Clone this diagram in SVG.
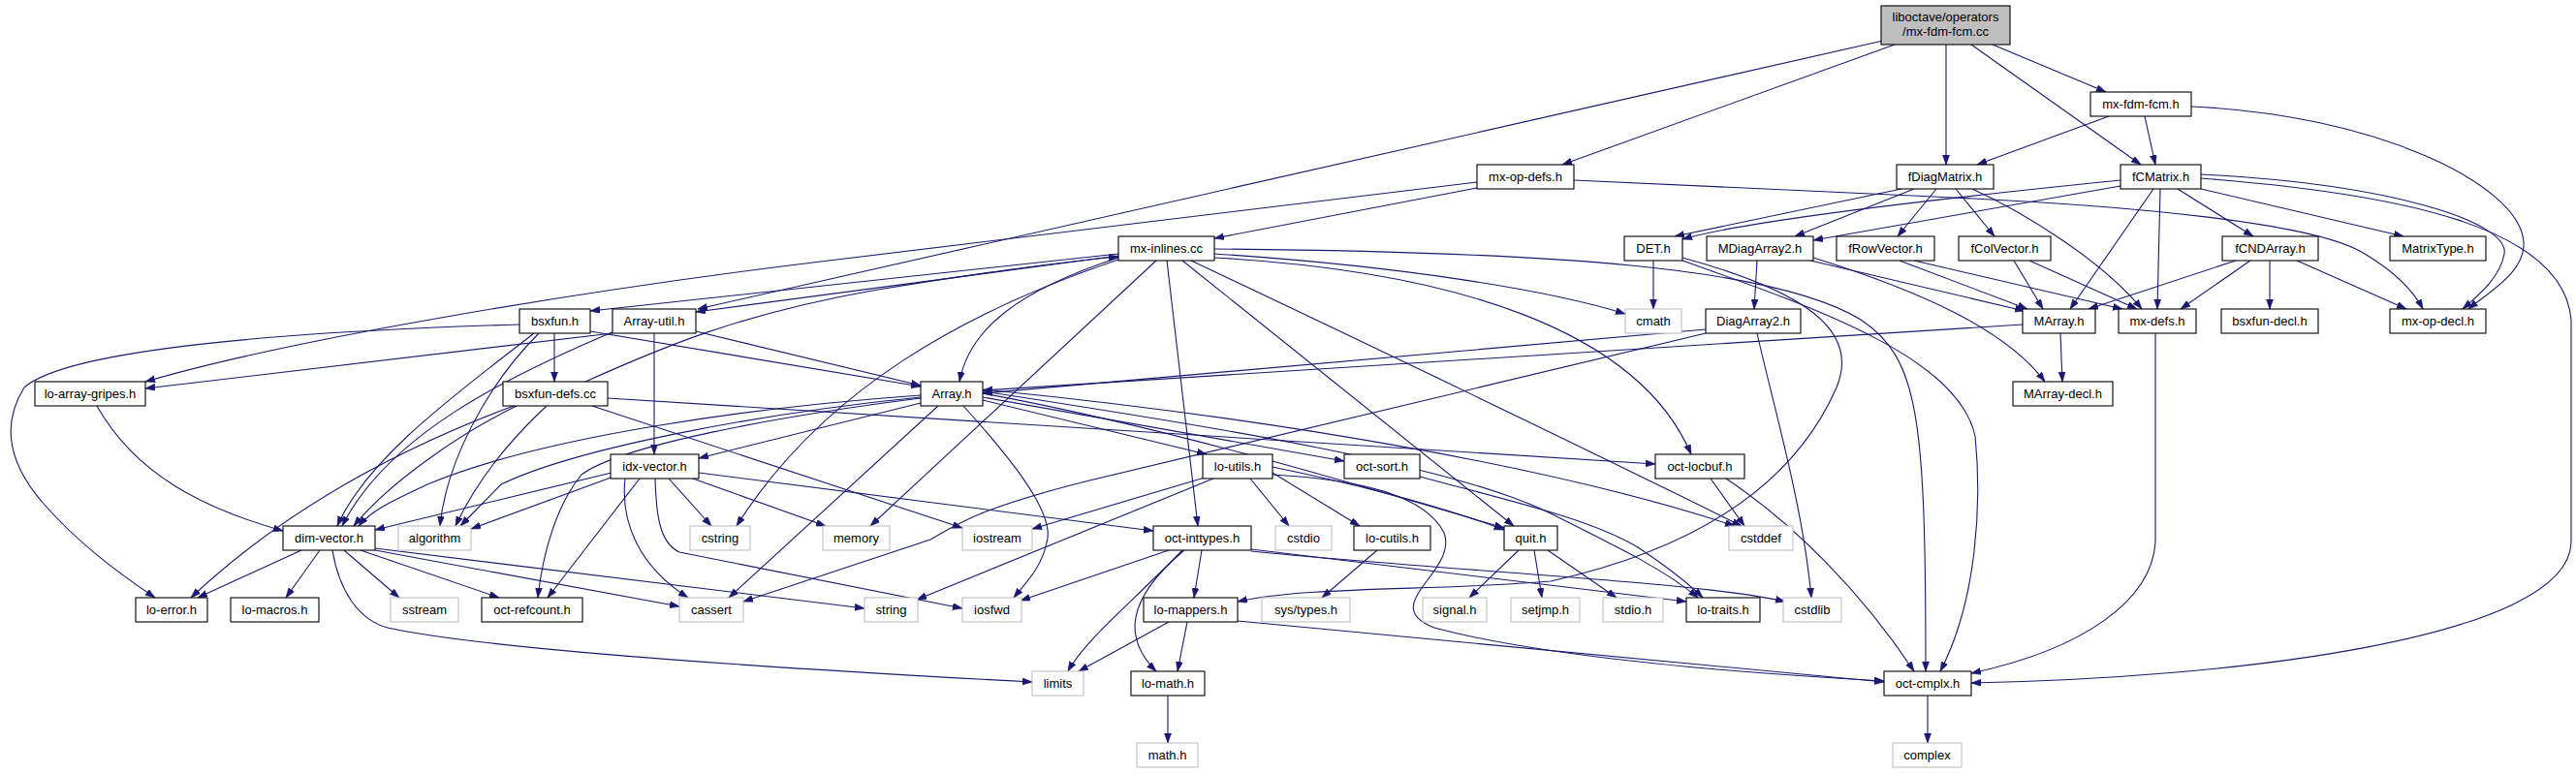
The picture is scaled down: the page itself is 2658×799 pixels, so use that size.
<svg xmlns="http://www.w3.org/2000/svg" width="2658" height="799" viewBox="0 0 2658 799">
<style>
.n rect{fill:#ffffff;stroke:#000000;stroke-width:1.1}
.x rect{fill:#ffffff;stroke:#bfbfbf;stroke-width:1.1}
.r rect{fill:#bfbfbf;stroke:#000000;stroke-width:1.1}
text{font-family:"Liberation Sans",Arial,Helvetica,sans-serif;font-size:13px;fill:#000000;text-anchor:middle}
#edges path{fill:none;stroke:#191970;stroke-width:1.1;marker-end:url(#ah)}
</style>
<defs>
<marker id="ah" markerUnits="userSpaceOnUse" markerWidth="11" markerHeight="8" refX="10" refY="3.5" orient="auto">
<path d="M0,0 L10,3.5 L0,7 z" fill="#191970" stroke="#191970" stroke-width="0.6"/>
</marker>
</defs>
<rect x="0" y="0" width="2658" height="799" fill="#ffffff"/>
<g id="edges">
<path d="M2056,46 L2173,95"/>
<path d="M2034,46 L2209,170"/>
<path d="M2008,46 L2008,170"/>
<path d="M1955,46 L1612,170"/>
<path d="M1943,42 L720,319"/>
<path d="M2176,120 L2040,170"/>
<path d="M2213,120 L2224,170"/>
<path d="M2261,110 C2450,118 2600,190 2604,250 C2606,280 2570,300 2547,319"/>
<path d="M2271,180 C2470,190 2590,230 2584,262 C2580,285 2560,303 2541,319"/>
<path d="M2271,184 C2480,200 2645,235 2653,330 L2653,560 C2650,660 2300,700 2034,705"/>
<path d="M2271,195 L2480,244"/>
<path d="M2247,195 L2325,244"/>
<path d="M2229,195 L2226,319"/>
<path d="M2222,195 L2136,319"/>
<path d="M2188,192 L1871,248"/>
<path d="M2188,186 C2000,205 1800,228 1736,247"/>
<path d="M1962,195 L1728,244"/>
<path d="M1975,195 L1852,244"/>
<path d="M1998,195 L1958,244"/>
<path d="M2018,195 L2058,244"/>
<path d="M2035,195 C2090,220 2170,270 2210,319"/>
<path d="M1624,186 L1995,203 C2200,212 2390,230 2440,262 C2470,280 2490,300 2500,319"/>
<path d="M1524,194 L1253,246"/>
<path d="M1524,188 L847,270 C600,300 300,350 150,394"/>
<path d="M1706,269 L1706,319"/>
<path d="M1736,266 C1860,300 1920,340 1895,400 C1860,480 1780,560 1600,600 C1480,610 1350,605 1277,621"/>
<path d="M1736,269 C1880,320 2020,370 2038,450 C2045,520 2040,620 2002,693"/>
<path d="M1813,269 L1810,319"/>
<path d="M1868,269 L2089,321"/>
<path d="M1871,266 C1980,300 2070,340 2110,394"/>
<path d="M1960,269 L2092,319"/>
<path d="M1975,269 L2190,319"/>
<path d="M2078,269 L2108,319"/>
<path d="M2094,269 L2205,319"/>
<path d="M2307,269 L2155,319"/>
<path d="M2322,269 L2250,319"/>
<path d="M2342,269 L2342,319"/>
<path d="M2370,269 L2483,319"/>
<path d="M2087,335 L1014,403"/>
<path d="M2126,344 L2128,394"/>
<path d="M2224,344 L2224,560 C2220,620 2150,670 2034,695"/>
<path d="M1760,340 L1014,406"/>
<path d="M1760,344 L1120,497 C1010,525 990,540 960,557 L767,621"/>
<path d="M1813,344 C1830,420 1860,520 1869,617"/>
<path d="M1154,266 C1050,300 1000,340 990,394"/>
<path d="M1154,264 L718,322"/>
<path d="M1154,262 L609,321"/>
<path d="M1253,262 C1450,275 1600,300 1677,324"/>
<path d="M1253,266 C1500,280 1690,340 1745,469"/>
<path d="M1253,257 C1600,260 1830,275 1920,330 C1980,370 1987,430 1987,693"/>
<path d="M1229,269 C1400,350 1650,470 1797,543"/>
<path d="M1220,269 L1562,543"/>
<path d="M1204,269 L1236,543"/>
<path d="M1193,269 L898,543"/>
<path d="M1154,268 C1000,320 850,400 760,543"/>
<path d="M572,344 L572,394"/>
<path d="M609,342 L950,399"/>
<path d="M536,335 C300,342 70,360 25,400 C0,440 10,480 45,520 C80,560 120,590 160,617"/>
<path d="M551,344 C480,400 380,470 348,543"/>
<path d="M556,344 C500,400 460,480 454,543"/>
<path d="M632,344 L150,401"/>
<path d="M634,342 C520,390 400,450 353,543"/>
<path d="M675,344 L675,469"/>
<path d="M718,342 L950,398"/>
<path d="M604,394 C680,360 760,325 900,300 C1000,283 1100,270 1154,265"/>
<path d="M627,411 L1708,479"/>
<path d="M533,419 C470,450 400,500 365,543"/>
<path d="M530,419 C420,460 300,520 197,617"/>
<path d="M564,419 C520,460 490,500 470,543"/>
<path d="M611,419 L993,545"/>
<path d="M100,419 C140,490 210,525 292,548"/>
<path d="M950,408 C780,420 560,450 441,500 C410,515 385,525 370,543"/>
<path d="M950,410 C800,425 600,460 517,500 L475,543"/>
<path d="M950,416 L721,473"/>
<path d="M968,419 L752,617"/>
<path d="M994,419 C1040,470 1090,530 1080,560 C1075,585 1060,600 1046,617"/>
<path d="M1014,413 L1245,469"/>
<path d="M1014,410 L1387,476"/>
<path d="M1014,406 C1200,440 1400,500 1552,545"/>
<path d="M1014,404 C1250,440 1500,480 1600,530 C1680,570 1720,590 1752,617"/>
<path d="M1014,402 C1300,430 1600,480 1790,543"/>
<path d="M950,411 C800,430 640,460 600,490 C575,520 560,570 555,617"/>
<path d="M631,488 L387,547"/>
<path d="M633,492 L486,546"/>
<path d="M660,494 L565,617"/>
<path d="M645,494 C640,540 660,585 710,617"/>
<path d="M676,494 C677,530 680,560 701,570 L993,628"/>
<path d="M690,494 L734,543"/>
<path d="M715,494 L852,543"/>
<path d="M721,488 L1190,548"/>
<path d="M1243,493 L1065,546"/>
<path d="M1252,494 L946,619"/>
<path d="M1290,494 L1330,543"/>
<path d="M1313,488 L1403,543"/>
<path d="M1313,482 C1400,500 1480,520 1552,547"/>
<path d="M1313,490 C1400,495 1470,510 1490,550 C1505,590 1420,625 1480,648 C1600,680 1800,695 1944,703"/>
<path d="M1465,492 C1550,515 1640,535 1690,565 C1720,585 1740,600 1757,617"/>
<path d="M1765,494 L1800,543"/>
<path d="M1781,494 C1850,540 1920,610 1975,693"/>
<path d="M1206,568 L1053,620"/>
<path d="M1220,568 C1170,620 1120,660 1102,693"/>
<path d="M1222,568 C1160,620 1160,660 1193,693"/>
<path d="M1240,568 L1232,617"/>
<path d="M1291,567 L1740,621"/>
<path d="M1291,569 C1500,590 1750,600 1842,621"/>
<path d="M1206,642 L1113,693"/>
<path d="M1225,642 L1215,693"/>
<path d="M1277,641 L1944,704"/>
<path d="M1205,718 L1205,767"/>
<path d="M1421,568 L1364,617"/>
<path d="M1567,568 L1516,617"/>
<path d="M1583,568 L1591,617"/>
<path d="M1597,568 L1668,617"/>
<path d="M1989,718 L1989,767"/>
<path d="M311,568 L204,617"/>
<path d="M330,568 L295,617"/>
<path d="M355,568 L412,617"/>
<path d="M372,568 L515,617"/>
<path d="M387,566 L892,628"/>
<path d="M387,568 L701,626"/>
<path d="M343,568 C350,610 370,640 400,648 C500,670 800,690 1065,704"/>
</g>
<g id="root" class="r"><rect x="1941" y="6" width="133" height="40"/><text x="2007.5" y="22">liboctave/operators</text><text x="2007.5" y="37">/mx-fdm-fcm.cc</text></g>
<g id="mxfdmfcmh" class="n"><rect x="2157" y="95" width="104" height="25"/><text x="2209" y="112">mx-fdm-fcm.h</text></g>
<g id="fDiagMatrix" class="n"><rect x="1957" y="170" width="100" height="25"/><text x="2007" y="187">fDiagMatrix.h</text></g>
<g id="fCMatrix" class="n"><rect x="2188" y="170" width="83" height="25"/><text x="2229.5" y="187">fCMatrix.h</text></g>
<g id="mxopdefs" class="n"><rect x="1524" y="170" width="100" height="25"/><text x="1574" y="187">mx-op-defs.h</text></g>
<g id="DET" class="n"><rect x="1676" y="244" width="60" height="25"/><text x="1706" y="261">DET.h</text></g>
<g id="MDiagArray2" class="n"><rect x="1761" y="244" width="110" height="25"/><text x="1816" y="261">MDiagArray2.h</text></g>
<g id="fRowVector" class="n"><rect x="1895" y="244" width="101" height="25"/><text x="1945.5" y="261">fRowVector.h</text></g>
<g id="fColVector" class="n"><rect x="2021" y="244" width="95" height="25"/><text x="2068.5" y="261">fColVector.h</text></g>
<g id="fCNDArray" class="n"><rect x="2293" y="244" width="99" height="25"/><text x="2342.5" y="261">fCNDArray.h</text></g>
<g id="MatrixType" class="n"><rect x="2466" y="244" width="99" height="25"/><text x="2515.5" y="261">MatrixType.h</text></g>
<g id="mxinlines" class="n"><rect x="1154" y="244" width="99" height="25"/><text x="1203.5" y="261">mx-inlines.cc</text></g>
<g id="bsxfun" class="n"><rect x="536" y="319" width="73" height="25"/><text x="572.5" y="336">bsxfun.h</text></g>
<g id="Arrayutil" class="n"><rect x="632" y="319" width="86" height="25"/><text x="675" y="336">Array-util.h</text></g>
<g id="cmath" class="x"><rect x="1677" y="319" width="58" height="25"/><text x="1706" y="336">cmath</text></g>
<g id="DiagArray2" class="n"><rect x="1760" y="319" width="98" height="25"/><text x="1809" y="336">DiagArray2.h</text></g>
<g id="MArray" class="n"><rect x="2087" y="319" width="75" height="25"/><text x="2124.5" y="336">MArray.h</text></g>
<g id="mxdefs" class="n"><rect x="2186" y="319" width="80" height="25"/><text x="2226" y="336">mx-defs.h</text></g>
<g id="bsxfundecl" class="n"><rect x="2292" y="319" width="100" height="25"/><text x="2342" y="336">bsxfun-decl.h</text></g>
<g id="mxopdecl" class="n"><rect x="2466" y="319" width="99" height="25"/><text x="2515.5" y="336">mx-op-decl.h</text></g>
<g id="loarraygripes" class="n"><rect x="36" y="394" width="114" height="25"/><text x="93" y="411">lo-array-gripes.h</text></g>
<g id="bsxfundefs" class="n"><rect x="519" y="394" width="108" height="25"/><text x="573" y="411">bsxfun-defs.cc</text></g>
<g id="Array" class="n"><rect x="950" y="394" width="64" height="25"/><text x="982" y="411">Array.h</text></g>
<g id="MArraydecl" class="n"><rect x="2077" y="394" width="103" height="25"/><text x="2128.5" y="411">MArray-decl.h</text></g>
<g id="idxvector" class="n"><rect x="630" y="469" width="91" height="25"/><text x="675.5" y="486">idx-vector.h</text></g>
<g id="loutils" class="n"><rect x="1241" y="469" width="72" height="25"/><text x="1277" y="486">lo-utils.h</text></g>
<g id="octsort" class="n"><rect x="1387" y="469" width="78" height="25"/><text x="1426" y="486">oct-sort.h</text></g>
<g id="octlocbuf" class="n"><rect x="1708" y="469" width="92" height="25"/><text x="1754" y="486">oct-locbuf.h</text></g>
<g id="dimvector" class="n"><rect x="292" y="543" width="95" height="25"/><text x="339.5" y="560">dim-vector.h</text></g>
<g id="algorithm" class="x"><rect x="411" y="543" width="75" height="25"/><text x="448.5" y="560">algorithm</text></g>
<g id="cstring" class="x"><rect x="712" y="543" width="62" height="25"/><text x="743" y="560">cstring</text></g>
<g id="memory" class="x"><rect x="849" y="543" width="69" height="25"/><text x="883.5" y="560">memory</text></g>
<g id="iostream" class="x"><rect x="993" y="543" width="72" height="25"/><text x="1029" y="560">iostream</text></g>
<g id="octinttypes" class="n"><rect x="1190" y="543" width="101" height="25"/><text x="1240.5" y="560">oct-inttypes.h</text></g>
<g id="cstdio" class="x"><rect x="1316" y="543" width="58" height="25"/><text x="1345" y="560">cstdio</text></g>
<g id="locutils" class="n"><rect x="1397" y="543" width="79" height="25"/><text x="1436.5" y="560">lo-cutils.h</text></g>
<g id="quit" class="n"><rect x="1552" y="543" width="55" height="25"/><text x="1579.5" y="560">quit.h</text></g>
<g id="cstddef" class="x"><rect x="1784" y="543" width="66" height="25"/><text x="1817" y="560">cstddef</text></g>
<g id="loerror" class="n"><rect x="140" y="617" width="74" height="25"/><text x="177" y="634">lo-error.h</text></g>
<g id="lomacros" class="n"><rect x="238" y="617" width="91" height="25"/><text x="283.5" y="634">lo-macros.h</text></g>
<g id="sstream" class="x"><rect x="403" y="617" width="70" height="25"/><text x="438" y="634">sstream</text></g>
<g id="octrefcount" class="n"><rect x="497" y="617" width="104" height="25"/><text x="549" y="634">oct-refcount.h</text></g>
<g id="cassert" class="x"><rect x="701" y="617" width="66" height="25"/><text x="734" y="634">cassert</text></g>
<g id="string" class="x"><rect x="892" y="617" width="55" height="25"/><text x="919.5" y="634">string</text></g>
<g id="iosfwd" class="x"><rect x="993" y="617" width="61" height="25"/><text x="1023.5" y="634">iosfwd</text></g>
<g id="lomappers" class="n"><rect x="1180" y="617" width="97" height="25"/><text x="1228.5" y="634">lo-mappers.h</text></g>
<g id="systypes" class="x"><rect x="1302" y="617" width="91" height="25"/><text x="1347.5" y="634">sys/types.h</text></g>
<g id="signal" class="x"><rect x="1468" y="617" width="66" height="25"/><text x="1501" y="634">signal.h</text></g>
<g id="setjmp" class="x"><rect x="1559" y="617" width="71" height="25"/><text x="1594.5" y="634">setjmp.h</text></g>
<g id="stdio" class="x"><rect x="1654" y="617" width="62" height="25"/><text x="1685" y="634">stdio.h</text></g>
<g id="lotraits" class="n"><rect x="1740" y="617" width="76" height="25"/><text x="1778" y="634">lo-traits.h</text></g>
<g id="cstdlib" class="x"><rect x="1840" y="617" width="60" height="25"/><text x="1870" y="634">cstdlib</text></g>
<g id="limits" class="x"><rect x="1065" y="693" width="53" height="25"/><text x="1091.5" y="710">limits</text></g>
<g id="lomath" class="n"><rect x="1167" y="693" width="76" height="25"/><text x="1205" y="710">lo-math.h</text></g>
<g id="octcmplx" class="n"><rect x="1944" y="693" width="90" height="25"/><text x="1989" y="710">oct-cmplx.h</text></g>
<g id="mathh" class="x"><rect x="1173" y="767" width="63" height="25"/><text x="1204.5" y="784">math.h</text></g>
<g id="complex" class="x"><rect x="1953" y="767" width="71" height="25"/><text x="1988.5" y="784">complex</text></g>
</svg>
